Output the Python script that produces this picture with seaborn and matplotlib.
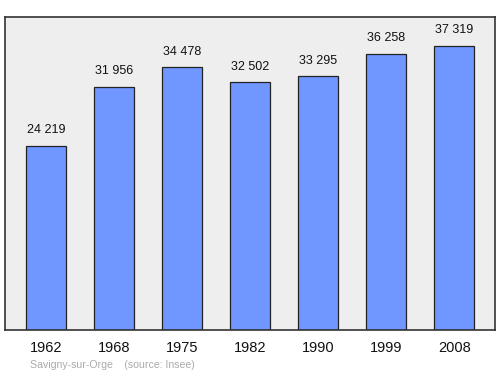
import matplotlib
matplotlib.use("Agg")
import matplotlib.pyplot as plt
import seaborn as sns
import pandas as pd

years = ["1962", "1968", "1975", "1982", "1990", "1999", "2008"]
population = [24219, 31956, 34478, 32502, 33295, 36258, 37319]
labels = ["24 219", "31 956", "34 478", "32 502", "33 295", "36 258", "37 319"]

df = pd.DataFrame({"year": years, "pop": population})

sns.set_style("white")
plt.rcParams['font.family'] = ['Liberation Sans', 'DejaVu Sans']

fig = plt.figure(figsize=(5, 3.74), dpi=100)
ax = fig.add_axes([0.01, 0.1176, 0.98, 0.837])
ax.set_facecolor("#eeeeee")
sns.barplot(data=df, x="year", y="pop", color="#7096ff", saturation=1,
            width=0.58, edgecolor="#222222", linewidth=0.9, ax=ax)
ax.set_ylim(0, 41100)
ax.set_xlim(-0.6, 6.6)
for i, (v, t) in enumerate(zip(population, labels)):
    ax.annotate(t, (i, v), xytext=(0, 7), textcoords="offset points",
                ha="center", va="bottom", fontsize=9, color="#111111")
ax.set_xlabel("")
ax.set_ylabel("")
ax.set_yticks([])
ax.tick_params(axis="x", length=0, labelsize=10.5, pad=8, colors="#111111")
for s in ax.spines.values():
    s.set_visible(True)
    s.set_color("#333333")
    s.set_linewidth(1.2)
fig.text(0.06, 0.015, "Savigny-sur-Orge    (source: Insee)", fontsize=7.6, color="#aaaaaa")
fig.savefig("out.png", dpi=100)
